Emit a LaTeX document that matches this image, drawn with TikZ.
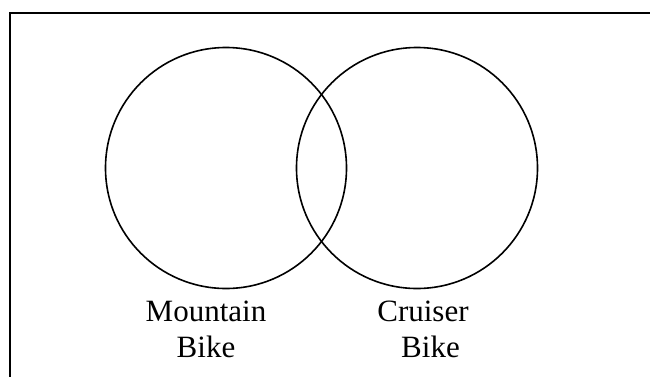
\documentclass[tikz,border=0pt]{standalone}
\usepackage{fontspec}
\setmainfont{Liberation Serif}
\usetikzlibrary{positioning}

\begin{document}
\begin{tikzpicture}[
 x=1pt,y=-1pt,
 ring/.style={draw=black,line width=1.6pt},
 frame/.style={draw=black,line width=2.2pt},
 lab/.style={align=center,inner sep=0pt,anchor=north,
 font=\fontsize{31}{36}\selectfont}]
\useasboundingbox (0,0) rectangle (650,376);
\clip (0,0) rectangle (650,376);
\draw[frame] (10,13) rectangle (680,400);
\node[circle,ring,minimum size=241pt,inner sep=0pt] (mb) at (226,168) {};
\node[circle,ring,minimum size=241pt,inner sep=0pt] (cb) at (417,168) {};
\node[lab] (mt) at (206,301) {Mountain\\Bike};
\node[lab] (ct) at (423,301) {Cruiser\\\hspace*{15pt}Bike};
\end{tikzpicture}
\end{document}
